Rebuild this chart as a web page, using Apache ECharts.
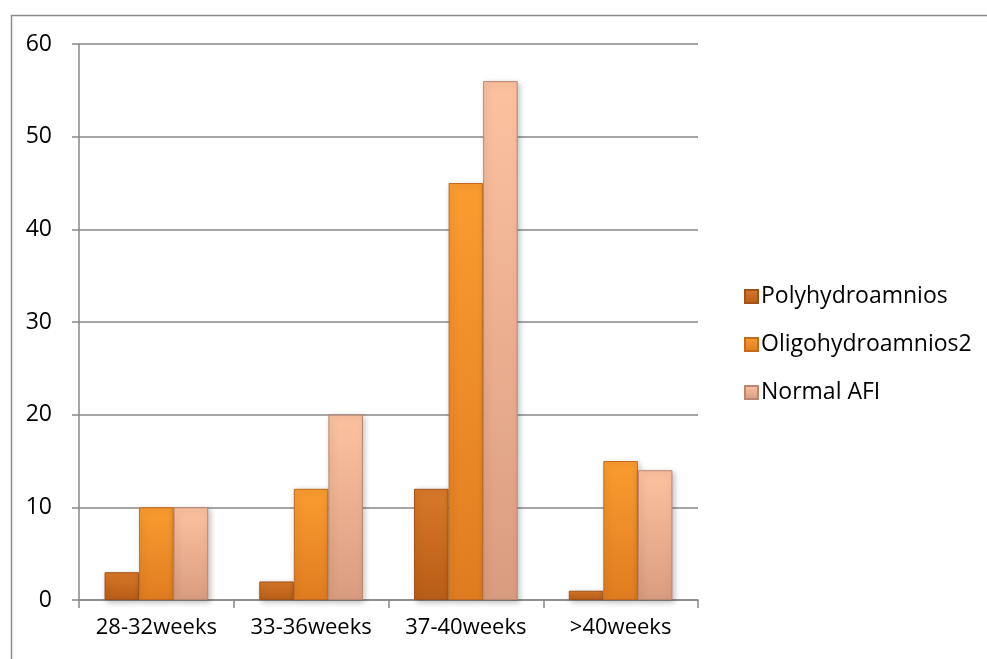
<!DOCTYPE html>
<html>
<head>
<meta charset="utf-8">
<script src="https://cdn.jsdelivr.net/npm/echarts@6/dist/echarts.min.js"></script>
<style>
  html, body { margin: 0; padding: 0; background: #fff; }
  #main { width: 987px; height: 659px; }
</style>
</head>
<body>
<div id="main"></div>
<script>
var categories = ['28-32weeks', '33-36weeks', '37-40weeks', '>40weeks'];
var polyValues = [3, 2, 12, 1];
var oligoValues = [10, 12, 45, 15];
var normalValues = [10, 20, 56, 14];
var yTicks = [0, 10, 20, 30, 40, 50, 60];

function grad(top, bottom) {
  return new echarts.graphic.LinearGradient(0, 0, 0, 1, [
    { offset: 0, color: top },
    { offset: 1, color: bottom }
  ]);
}

var font = '"Open Sans", Lato, sans-serif';
var myChart = echarts.init(document.getElementById('main'));

function barSeries(name, data, top, bottom, border) {
  return {
    name: name,
    type: 'bar',
    data: data,
    barGap: '0%',
    barCategoryGap: '33%',
    itemStyle: {
      color: grad(top, bottom),
      borderColor: border,
      borderWidth: 1,
      shadowColor: 'rgba(0,0,0,0.25)',
      shadowBlur: 6,
      shadowOffsetX: 2,
      shadowOffsetY: 2
    }
  };
}

myChart.setOption({
  animation: false,
  graphic: [{
    type: 'rect',
    shape: { x: 11.5, y: 15.5, width: 990, height: 660 },
    style: { fill: 'none', stroke: '#8c8c8c', lineWidth: 1.5 },
    silent: true
  }],
  grid: { left: 79, right: 289, top: 44, bottom: 59 },
  legend: {
    orient: 'vertical',
    left: 739,
    top: 280,
    itemWidth: 13,
    itemHeight: 13,
    itemGap: 25,
    icon: 'rect',
    textStyle: { fontFamily: font, fontSize: 23, color: '#000', padding: [0, 0, 0, -2] },
    data: ['Polyhydroamnios', 'Oligohydroamnios2', 'Normal AFI']
  },
  xAxis: {
    type: 'category',
    data: categories,
    axisLine: { lineStyle: { color: '#888', width: 1.5 } },
    axisTick: { show: true, length: 8, lineStyle: { color: '#888', width: 1.5 } },
    axisLabel: { fontFamily: font, fontSize: 22, color: '#000', margin: 17, interval: 0 }
  },
  yAxis: {
    type: 'value',
    min: yTicks[0],
    max: yTicks[yTicks.length - 1],
    interval: 10,
    axisLine: { show: true, lineStyle: { color: '#888', width: 1.5 } },
    axisTick: { show: true, length: 7, lineStyle: { color: '#888', width: 1.5 } },
    axisLabel: { fontFamily: font, fontSize: 23, color: '#000', margin: 27 },
    splitLine: { lineStyle: { color: '#888', width: 1.5 } }
  },
  series: [
    barSeries('Polyhydroamnios', polyValues, '#d8792a', '#b85d17', '#a0521a'),
    barSeries('Oligohydroamnios2', oligoValues, '#fa9c30', '#e07c20', '#c56a1c'),
    barSeries('Normal AFI', normalValues, '#fcc2a0', '#d99c80', '#b98670')
  ]
});
</script>
</body>
</html>
